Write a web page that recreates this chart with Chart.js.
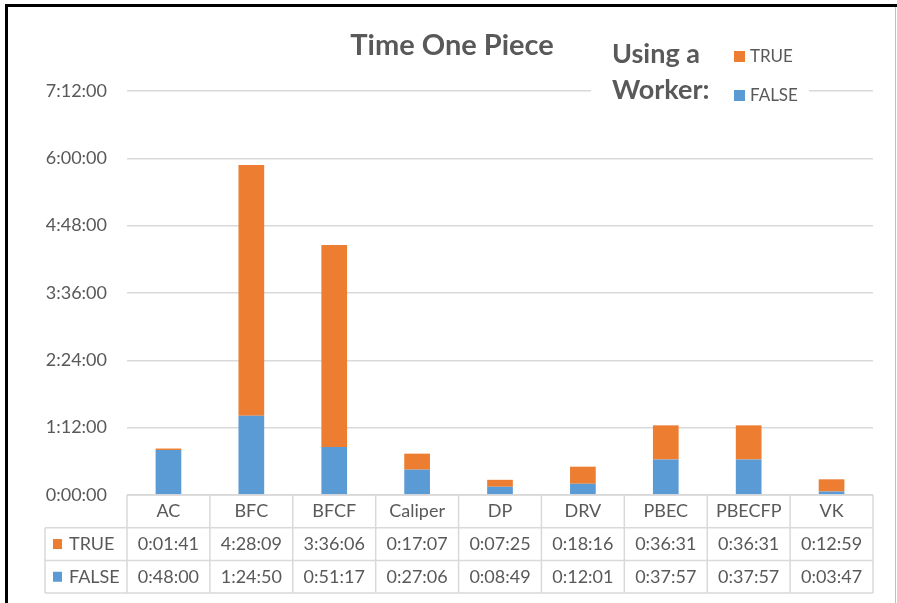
<!DOCTYPE html>
<html>
<head>
<meta charset="utf-8">
<title>Time One Piece</title>
<script src="https://cdn.jsdelivr.net/npm/chart.js@4.4.1/dist/chart.umd.min.js"></script>
<style>
  body { margin: 0; background: #fff; }
  #wrap { width: 897px; height: 603px; }
</style>
</head>
<body>
<div id="wrap"><canvas id="mycanvas" width="897" height="603"></canvas></div>
<script>
// data
var categories = ['AC', 'BFC', 'BFCF', 'Caliper', 'DP', 'DRV', 'PBEC', 'PBECFP', 'VK'];
var trueTimes  = ['0:01:41', '4:28:09', '3:36:06', '0:17:07', '0:07:25', '0:18:16', '0:36:31', '0:36:31', '0:12:59'];
var falseTimes = ['0:48:00', '1:24:50', '0:51:17', '0:27:06', '0:08:49', '0:12:01', '0:37:57', '0:37:57', '0:03:47'];
var seriesNames = ['TRUE', 'FALSE'];
var yStep = '1:12:00';
var yMax = '7:12:00';

var orange = '#ED7D31';
var blue = '#5B9BD5';
var textCol = '#595959';
var gridCol = '#D9D9D9';
var fontName = 'Lato';

function toSec(s) {
  var p = s.split(':');
  return (+p[0]) * 3600 + (+p[1]) * 60 + (+p[2]);
}
function toHms(v) {
  var h = Math.floor(v / 3600);
  var m = Math.floor((v % 3600) / 60);
  var s = Math.round(v % 60);
  return h + ':' + (m < 10 ? '0' : '') + m + ':' + (s < 10 ? '0' : '') + s;
}

var trueSec = trueTimes.map(toSec);
var falseSec = falseTimes.map(toSec);

// title, legend, data table and frame
var extras = {
  id: 'extras',
  afterDraw: function(chart) {
    var ctx = chart.ctx;
    var area = chart.chartArea;
    var n = categories.length;
    var colW = (area.right - area.left) / n;
    var rowH = 32.7;
    var top = area.bottom;
    var leftCol = 45;
    var i, cx;

    ctx.save();

    // title
    ctx.fillStyle = textCol;
    ctx.font = 'bold 29px ' + fontName;
    ctx.textAlign = 'center';
    ctx.textBaseline = 'alphabetic';
    ctx.fillText('Time One Piece', 452, 55);

    // legend block (covers the top gridline)
    ctx.fillStyle = '#fff';
    ctx.fillRect(591, 80, 218, 20);
    ctx.fillStyle = textCol;
    ctx.font = 'bold 27px ' + fontName;
    ctx.textAlign = 'left';
    ctx.fillText('Using a', 612, 63);
    ctx.fillText('Worker:', 612, 99);
    ctx.font = '17px ' + fontName;
    ctx.textBaseline = 'middle';
    ctx.fillStyle = orange;
    ctx.fillRect(734, 51, 11, 11);
    ctx.fillStyle = textCol;
    ctx.fillText(seriesNames[0], 750, 57);
    ctx.fillStyle = blue;
    ctx.fillRect(734, 90, 11, 11);
    ctx.fillStyle = textCol;
    ctx.fillText(seriesNames[1], 750, 96);

    // table grid
    ctx.strokeStyle = gridCol;
    ctx.lineWidth = 1.5;
    ctx.beginPath();
    ctx.moveTo(area.left, top);
    ctx.lineTo(area.right, top);
    for (i = 1; i <= 3; i++) {
      ctx.moveTo(leftCol, top + i * rowH);
      ctx.lineTo(area.right, top + i * rowH);
    }
    for (i = 0; i <= n; i++) {
      ctx.moveTo(area.left + i * colW, top);
      ctx.lineTo(area.left + i * colW, top + 3 * rowH);
    }
    ctx.moveTo(leftCol, top + rowH);
    ctx.lineTo(leftCol, top + 3 * rowH);
    ctx.stroke();

    // table text
    ctx.font = '18px ' + fontName;
    ctx.textBaseline = 'middle';
    ctx.textAlign = 'center';
    ctx.fillStyle = textCol;
    for (i = 0; i < n; i++) {
      cx = chart.scales.x.getPixelForValue(i);
      ctx.fillText(categories[i], cx, top + rowH * 0.5);
      ctx.fillText(trueTimes[i], cx, top + rowH * 1.5);
      ctx.fillText(falseTimes[i], cx, top + rowH * 2.5);
    }
    ctx.textAlign = 'left';
    ctx.fillStyle = orange;
    ctx.fillRect(53, top + rowH * 1.5 - 5, 9, 10);
    ctx.fillStyle = blue;
    ctx.fillRect(53, top + rowH * 2.5 - 5, 9, 10);
    ctx.fillStyle = textCol;
    ctx.fillText(seriesNames[0], 69, top + rowH * 1.5);
    ctx.fillText(seriesNames[1], 69, top + rowH * 2.5);

    // frame
    ctx.fillStyle = '#000';
    ctx.fillRect(5, 4, 892, 3);
    ctx.fillRect(5, 4, 3, 599);
    ctx.fillStyle = '#BFBFBF';
    ctx.fillRect(895, 7, 1, 596);

    ctx.restore();
  }
};

var chartdata = {
  labels: categories,
  datasets: [
    {
      label: seriesNames[1],
      backgroundColor: blue,
      data: falseSec,
      stack: 's'
    },
    {
      label: seriesNames[0],
      backgroundColor: orange,
      data: trueSec,
      stack: 's'
    }
  ]
};

var ctx = document.getElementById('mycanvas');
var barGraph = new Chart(ctx, {
  type: 'bar',
  data: chartdata,
  plugins: [extras],
  options: {
    responsive: false,
    animation: false,
    layout: { padding: { top: 91, bottom: 108, right: 24, left: 0 } },
    datasets: { bar: { barPercentage: 0.31, categoryPercentage: 1 } },
    plugins: {
      legend: { display: false },
      title: { display: false },
      tooltip: { enabled: false }
    },
    scales: {
      x: { display: false, stacked: true },
      y: {
        stacked: true,
        min: 0,
        max: toSec(yMax),
        afterFit: function(scale) { scale.width = 127; },
        border: { display: false },
        grid: { color: gridCol, lineWidth: 1.5, drawTicks: false },
        ticks: {
          stepSize: toSec(yStep),
          padding: 20,
          color: textCol,
          font: { family: fontName, size: 18 },
          callback: function(v) { return toHms(v); }
        }
      }
    }
  }
});
</script>
</body>
</html>
